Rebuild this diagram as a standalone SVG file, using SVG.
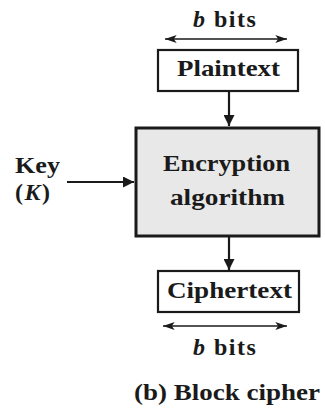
<svg xmlns="http://www.w3.org/2000/svg" width="325" height="411" viewBox="0 0 325 411">
  <defs>
    <marker id="head" viewBox="0 0 10 10" refX="10" refY="5" markerWidth="5" markerHeight="5" orient="auto" markerUnits="strokeWidth">
      <path d="M0,0 L10,5 L0,10 z" fill="#1a1a1a"/>
    </marker>
    <marker id="thin" viewBox="0 0 12 10" refX="12" refY="5" markerWidth="9" markerHeight="7.5" orient="auto-start-reverse" markerUnits="strokeWidth">
      <path d="M0,1 L12,5 L0,9 L3,5 z" fill="#1a1a1a"/>
    </marker>
  </defs>
  <style>
    .lbl { font-weight: bold; fill: #1a1a1a; }
    .bits { font-weight: bold; fill: #1a1a1a; letter-spacing: 1.5px; }
    .box { fill: #ffffff; stroke: #1a1a1a; stroke-width: 2.2; }
    .big { fill: #e8e8e8; stroke: #1a1a1a; stroke-width: 3; }
    .flow { stroke: #1a1a1a; stroke-width: 2.2; fill: none; marker-end: url(#head); }
    .span { stroke: #1a1a1a; stroke-width: 1.3; fill: none; marker-start: url(#thin); marker-end: url(#thin); }
  </style>

  <g font-family="'Liberation Serif', 'Times New Roman', serif" font-size="24">
    <g id="plaintext">
      <rect class="box" x="158" y="50" width="140" height="41"/>
      <text class="lbl" x="177" y="76" textLength="103" lengthAdjust="spacingAndGlyphs">Plaintext</text>
    </g>

    <g id="encryption">
      <rect class="big" x="136" y="128" width="183" height="108"/>
      <text class="lbl" x="163" y="171" textLength="127" lengthAdjust="spacingAndGlyphs">Encryption</text>
      <text class="lbl" x="170" y="205" textLength="115" lengthAdjust="spacingAndGlyphs">algorithm</text>
    </g>

    <g id="ciphertext">
      <rect class="box" x="158" y="271" width="141" height="41"/>
      <text class="lbl" x="167" y="298" textLength="125" lengthAdjust="spacingAndGlyphs">Ciphertext</text>
    </g>

    <g id="key">
      <text class="lbl" x="15" y="173" textLength="45" lengthAdjust="spacingAndGlyphs">Key</text>
      <text class="bits" x="15" y="200">(<tspan font-style="italic">K</tspan>)</text>
    </g>

    <g id="labels">
      <text class="bits" x="193" y="27"><tspan font-style="italic">b</tspan> bits</text>
      <text class="bits" x="193" y="355"><tspan font-style="italic">b</tspan> bits</text>
      <text class="lbl" x="134" y="400" textLength="186" lengthAdjust="spacingAndGlyphs">(b) Block cipher</text>
    </g>
  </g>

  <g id="connectors">
    <line class="span" x1="165" y1="39" x2="287" y2="39"/>
    <line class="span" x1="163" y1="326" x2="287" y2="326"/>
    <line class="flow" x1="229" y1="91" x2="229" y2="126"/>
    <line class="flow" x1="229" y1="237" x2="229" y2="270"/>
    <line class="flow" x1="67" y1="182" x2="134" y2="182"/>
  </g>
</svg>
